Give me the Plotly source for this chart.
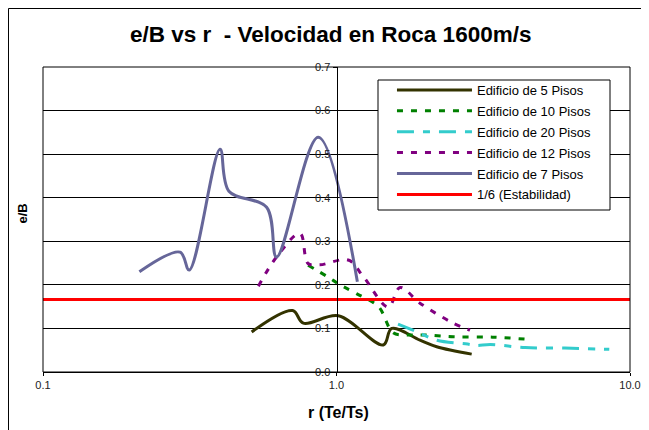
import plotly.graph_objects as go

# ---- data ----
r_5 = [0.514, 0.709, 0.771, 1.014, 1.444, 1.542, 1.925, 2.195, 2.888]
eb_5 = [0.092, 0.141, 0.112, 0.129, 0.062, 0.100, 0.073, 0.058, 0.041]

r_10 = [0.80, 0.93, 1.03, 1.17, 1.39, 1.56, 1.75, 2.0, 2.5, 3.4, 4.5]
eb_10 = [0.245, 0.219, 0.200, 0.180, 0.150, 0.090, 0.085, 0.085, 0.081, 0.080, 0.075]

r_20 = [1.62, 1.88, 2.2, 2.8, 3.0, 3.35, 4.4, 6.0, 8.5]
eb_20 = [0.110, 0.092, 0.073, 0.064, 0.061, 0.063, 0.056, 0.055, 0.052]

r_12 = [0.542, 0.625, 0.751, 0.80, 0.878, 1.097, 1.234, 1.501, 1.646, 1.925, 2.50, 2.85]
eb_12 = [0.197, 0.264, 0.318, 0.249, 0.246, 0.257, 0.219, 0.149, 0.194, 0.158, 0.112, 0.096]

r_7 = [0.213, 0.293, 0.315, 0.401, 0.43, 0.578, 0.625, 0.867, 1.178]
eb_7 = [0.230, 0.275, 0.234, 0.511, 0.415, 0.378, 0.264, 0.539, 0.207]

r_stab = [0.1, 10.0]
eb_stab = [1/6, 1/6]

names = ["Edificio de 5 Pisos", "Edificio de 10 Pisos", "Edificio de 20 Pisos",
         "Edificio de 12 Pisos", "Edificio de 7 Pisos", "1/6 (Estabilidad)"]
y_ticks = [0.0, 0.1, 0.2, 0.3, 0.4, 0.5, 0.6, 0.7]
x_ticks = [0.1, 1.0, 10.0]
x_tick_text = ["0.1", "1.0", "10.0"]

FONT = "Liberation Sans, Arial, sans-serif"

fig = go.Figure()
series = [
    (r_5, eb_5, names[0], dict(color="#333300", width=3)),
    (r_10, eb_10, names[1], dict(color="#008000", width=3, dash="6px,8px")),
    (r_20, eb_20, names[2], dict(color="#33CCCC", width=3, dash="17px,9px,7px,9px")),
    (r_12, eb_12, names[3], dict(color="#800080", width=3, dash="6px,8px")),
    (r_7, eb_7, names[4], dict(color="#666699", width=3)),
]
for i, (xs, ys, nm, ln) in enumerate(series):
    fig.add_trace(go.Scatter(x=xs, y=ys, name=nm, mode="lines", legendgroup=f"g{i}",
                             line=dict(shape="spline", smoothing=1.0, **ln)))
fig.add_trace(go.Scatter(x=r_stab, y=eb_stab, name=names[5], mode="lines",
                         legendgroup="g5", line=dict(color="#FF0000", width=3)))

# plot area in the figure: x 35..622, y 59..364 (page body adds 8px offset)
fig.update_layout(
    width=649, height=430,
    margin=dict(l=35, r=27, t=59, b=66),
    paper_bgcolor="white", plot_bgcolor="white",
    font=dict(family=FONT, color="#000"),
    showlegend=True,
    legend=dict(x=0.5945, y=0.974, xanchor="left", yanchor="top",
                bgcolor="rgba(0,0,0,0)", borderwidth=0,
                font=dict(size=13, family=FONT), itemwidth=75,
                tracegroupgap=1),
    xaxis=dict(type="log", range=[-1, 1], tickvals=x_ticks, ticktext=x_tick_text,
               showgrid=False, zeroline=False, showline=True, linecolor="#000",
               linewidth=1, ticks="outside", ticklen=3, tickcolor="#000",
               tickfont=dict(size=11, color="#222"), fixedrange=True),
    yaxis=dict(range=[0, 0.7], tickvals=y_ticks, tickformat=".1f",
               anchor="free", position=0.5, side="left",
               showgrid=True, gridcolor="#000", gridwidth=1, zeroline=False,
               showline=True, linecolor="#000", linewidth=1,
               ticks="outside", ticklen=4, tickcolor="#000",
               tickfont=dict(size=11, color="#222"), fixedrange=True),
)

# plot-area box, legend box and outer chart frame
fig.add_shape(type="rect", xref="paper", yref="paper", x0=0, x1=1, y0=0, y1=1,
              line=dict(color="#000", width=1), fillcolor="rgba(0,0,0,0)")
fig.add_shape(type="rect", xref="paper", yref="paper",
              x0=(378 - 43) / 587, x1=(610 - 43) / 587,
              y0=(372 - 210) / 305, y1=(372 - 80) / 305,
              line=dict(color="#000", width=1), fillcolor="white", layer="above")
fig.add_shape(type="rect", xref="paper", yref="paper", x0=-0.0588, x1=1.5,
              y0=-0.6, y1=1.1918, line=dict(color="#000", width=1),
              fillcolor="rgba(0,0,0,0)")

fig.add_annotation(text="<b>e/B vs r  - Velocidad en Roca 1600m/s</b>",
                   xref="paper", yref="paper", x=0.4906, y=1.105,
                   xanchor="center", yanchor="middle",
                   showarrow=False, font=dict(size=22.5, family=FONT))
fig.add_annotation(text="<b>e/B</b>", xref="paper", yref="paper",
                   x=-0.0366, y=0.518, xanchor="center", yanchor="middle",
                   textangle=-90, showarrow=False,
                   font=dict(size=13, family=FONT))
fig.add_annotation(text="<b>r (Te/Ts)</b>", xref="paper", yref="paper",
                   x=0.504, y=-0.134, xanchor="center", yanchor="middle",
                   showarrow=False, font=dict(size=16, family=FONT))

fig.write_html("out.html")
